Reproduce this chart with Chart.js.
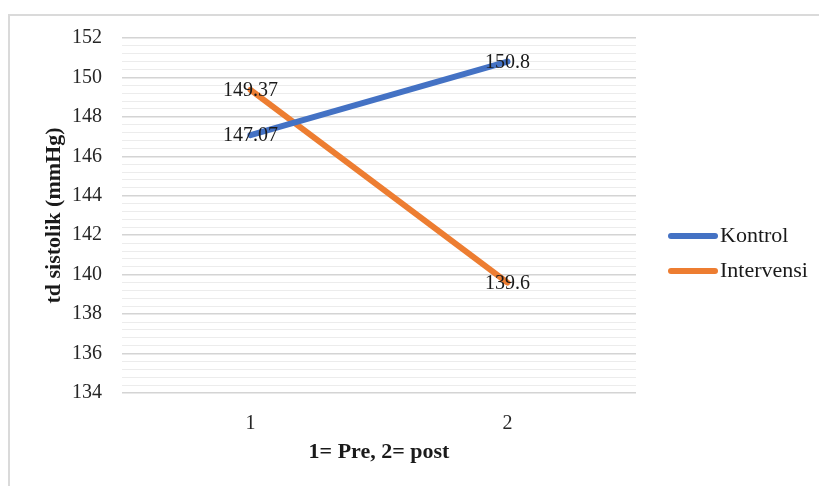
<!DOCTYPE html>
<html>
<head>
<meta charset="utf-8">
<script src="https://cdn.jsdelivr.net/npm/chart.js@4.4.1/dist/chart.umd.min.js"></script>
<style>
  html, body { margin: 0; padding: 0; background: #fff; }
  #frame {
    position: absolute; left: 8px; top: 14px; width: 830px; height: 490px;
    border: 2px solid #dadada; box-sizing: border-box;
  }
  #wrap { position: absolute; left: 0; top: 0; width: 819px; height: 486px; }
</style>
</head>
<body>
<div id="frame"></div>
<div id="wrap"><canvas id="chart"></canvas></div>
<script>
// data
const categories = ["1", "2"];
const kontrolValues = [147.07, 150.8];
const intervensiValues = [149.37, 139.6];
const seriesNames = ["Kontrol", "Intervensi"];
const seriesColors = ["#4472C4", "#ED7D31"];
const yMin = 134, yMax = 152, yMinorStep = 0.4, yMajorStep = 2;

const serif = "'Liberation Serif', 'Times New Roman', serif";

const isMajor = v => Math.abs(v / yMajorStep - Math.round(v / yMajorStep)) < 1e-6;

// value labels centred on each point
const pointLabels = {
  id: "pointLabels",
  afterDatasetsDraw(chart) {
    const ctx = chart.ctx;
    ctx.save();
    ctx.font = "20px " + serif;
    ctx.fillStyle = "#1a1a1a";
    ctx.textAlign = "center";
    ctx.textBaseline = "middle";
    chart.data.datasets.forEach((ds, i) => {
      chart.getDatasetMeta(i).data.forEach((pt, j) => {
        ctx.fillText(String(ds.data[j]), pt.x, pt.y + 1);
      });
    });
    ctx.restore();
  }
};

// excel-style legend on the right
const sideLegend = {
  id: "sideLegend",
  afterDraw(chart) {
    const ctx = chart.ctx;
    const area = chart.chartArea;
    const x0 = area.right + 32;
    let y = area.top + 198;
    ctx.save();
    ctx.font = "22px " + serif;
    ctx.textBaseline = "middle";
    ctx.fillStyle = "#1a1a1a";
    chart.data.datasets.forEach(ds => {
      ctx.strokeStyle = ds.borderColor;
      ctx.lineWidth = 6;
      ctx.lineCap = "round";
      ctx.beginPath();
      ctx.moveTo(x0 + 3, y);
      ctx.lineTo(x0 + 47, y);
      ctx.stroke();
      ctx.fillText(ds.label, x0 + 52, y);
      y += 35;
    });
    ctx.restore();
  }
};

new Chart(document.getElementById("chart"), {
  type: "line",
  data: {
    labels: categories,
    datasets: [
      {
        label: seriesNames[0],
        data: kontrolValues,
        borderColor: seriesColors[0],
        backgroundColor: seriesColors[0],
        borderWidth: 6,
        pointRadius: 0,
        borderCapStyle: "round",
        tension: 0
      },
      {
        label: seriesNames[1],
        data: intervensiValues,
        borderColor: seriesColors[1],
        backgroundColor: seriesColors[1],
        borderWidth: 6,
        pointRadius: 0,
        borderCapStyle: "round",
        tension: 0
      }
    ]
  },
  options: {
    responsive: true,
    maintainAspectRatio: false,
    animation: false,
    layout: { padding: { left: 30, top: 38, right: 183, bottom: 0 } },
    plugins: {
      legend: { display: false },
      tooltip: { enabled: false }
    },
    scales: {
      x: {
        offset: true,
        grid: { display: false },
        border: { display: false },
        ticks: {
          color: "#262626",
          padding: 11,
          font: { family: serif, size: 20 }
        },
        title: {
          display: true,
          text: "1= Pre, 2= post",
          color: "#1a1a1a",
          font: { family: serif, size: 22, weight: "bold" },
          padding: { top: 0, bottom: 20 }
        },
        afterFit: s => { s.height = 93; }
      },
      y: {
        min: yMin,
        max: yMax,
        border: { display: false },
        grid: {
          drawTicks: false,
          color: c => isMajor(c.tick.value) ? "#d4d4d4" : "#ececec",
          lineWidth: c => isMajor(c.tick.value) ? 1.5 : 1
        },
        ticks: {
          stepSize: yMinorStep,
          autoSkip: false,
          padding: 20,
          color: "#262626",
          font: { family: serif, size: 20 },
          callback: v => isMajor(v) ? String(Math.round(v)) : ""
        },
        title: {
          display: true,
          text: "td sistolik (mmHg)",
          color: "#1a1a1a",
          font: { family: serif, size: 22, weight: "bold" },
          padding: { top: 11, bottom: 0 }
        },
        afterFit: s => { s.width = 92; }
      }
    }
  },
  plugins: [pointLabels, sideLegend]
});
</script>
</body>
</html>
